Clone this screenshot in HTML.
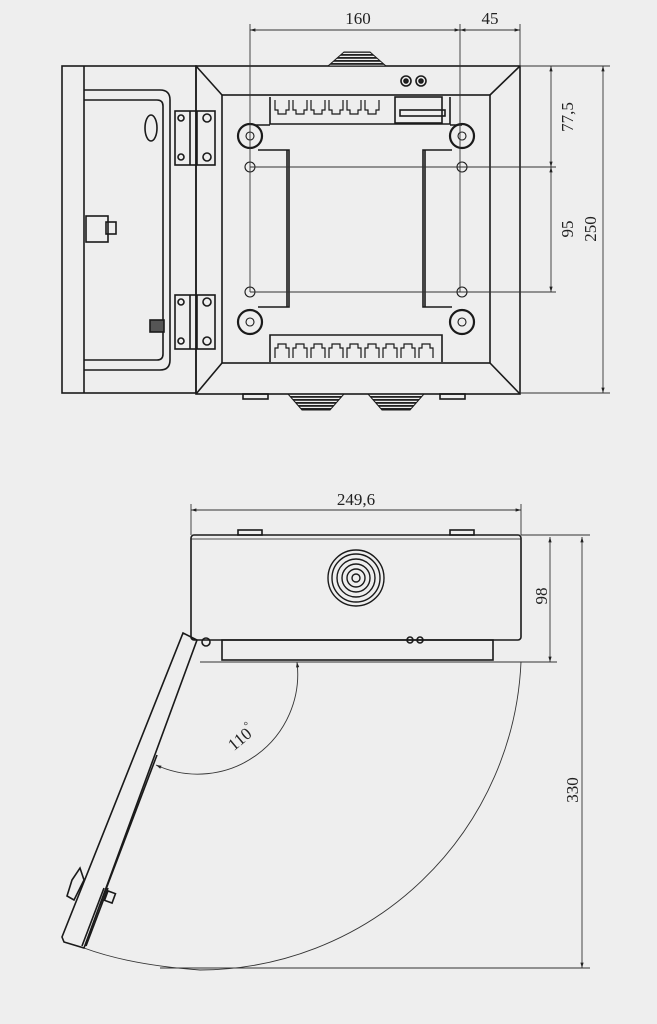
<!DOCTYPE html>
<html><head><meta charset="utf-8"><style>
html,body{margin:0;padding:0;background:#eeeeee;}
svg{display:block}
text{font-family:"Liberation Serif",serif;fill:#222;}
</style></head><body>
<svg width="657" height="1024" viewBox="0 0 657 1024" xmlns="http://www.w3.org/2000/svg">
<defs>
<marker id="a" viewBox="0 0 10 10" refX="10" refY="5" markerWidth="8" markerHeight="6" orient="auto-start-reverse"><path d="M0,2 L10,5 L0,8z" fill="#222"/></marker>
<pattern id="h" width="4" height="3" patternUnits="userSpaceOnUse"><rect width="4" height="3" fill="#eee"/><rect width="4" height="1.8" fill="#222"/></pattern>
</defs>
<rect width="657" height="1024" fill="#eeeeee"/>
<g stroke="#1a1a1a" fill="none" stroke-width="1.6">
<!-- door -->
<rect x="62" y="66" width="134" height="327"/>
<line x1="84" y1="66" x2="84" y2="393"/>
<path d="M84,90 H160 Q170,90 170,100 V360 Q170,370 160,370 H84"/>
<path d="M84,100 H157 Q163,100 163,106 V354 Q163,360 157,360 H84"/>
<ellipse cx="151" cy="128" rx="6" ry="13"/>
<rect x="86" y="216" width="22" height="26"/><rect x="106" y="222" width="10" height="12"/>
<rect x="150" y="320" width="14" height="12" fill="#555"/>
<!-- hinges -->
<rect x="175" y="111" width="40" height="54"/><line x1="190" y1="111" x2="190" y2="165"/><line x1="197" y1="111" x2="197" y2="165"/>
<circle cx="181" cy="118" r="3"/><circle cx="181" cy="157" r="3"/><circle cx="207" cy="118" r="4"/><circle cx="207" cy="157" r="4"/>
<rect x="175" y="295" width="40" height="54"/><line x1="190" y1="295" x2="190" y2="349"/><line x1="197" y1="295" x2="197" y2="349"/>
<circle cx="181" cy="302" r="3"/><circle cx="181" cy="341" r="3"/><circle cx="207" cy="302" r="4"/><circle cx="207" cy="341" r="4"/>
<!-- box -->
<rect x="196" y="66" width="324" height="328"/>
<rect x="222" y="95" width="268" height="268"/>
<line x1="196" y1="66" x2="222" y2="95"/><line x1="520" y1="66" x2="490" y2="95"/>
<line x1="196" y1="394" x2="222" y2="363"/><line x1="520" y1="394" x2="490" y2="363"/>
<!-- glands -->
<path d="M328,66 L344,52 H370 L386,66 Z" fill="url(#h)" stroke-width="1"/>
<path d="M288,394 L302,410 H330 L344,394 Z" fill="url(#h)" stroke-width="1"/>
<path d="M368,394 L382,410 H410 L424,394 Z" fill="url(#h)" stroke-width="1"/>
<rect x="243" y="394" width="25" height="5"/><rect x="440" y="394" width="25" height="5"/>
<circle cx="406" cy="81" r="5"/><circle cx="406" cy="81" r="2" fill="#222"/>
<circle cx="421" cy="81" r="5"/><circle cx="421" cy="81" r="2" fill="#222"/>
<!-- plate -->
<path d="M270,97 V124 H450 V97"/>
<path d="M270,362 V335 H442 V362"/>
<rect x="395" y="97" width="47" height="26"/><rect x="400" y="110" width="45" height="6"/>
<path d="M270,125 H255 M450,125 H462 M258,150 H289 V307 H258 M452,150 H423 V307 H452"/>
<line x1="287" y1="150" x2="287" y2="307"/><line x1="425" y1="150" x2="425" y2="307"/>
<g stroke-width="1.2">
<path d="M275,100 v10 h3 v4 h8 v-4 h3 v-10 M293,100 v10 h3 v4 h8 v-4 h3 v-10 M311,100 v10 h3 v4 h8 v-4 h3 v-10 M329,100 v10 h3 v4 h8 v-4 h3 v-10 M347,100 v10 h3 v4 h8 v-4 h3 v-10 M365,100 v10 h3 v4 h8 v-4 h3 v-10"/>
<path d="M275,358 v-10 h3 v-4 h8 v4 h3 v10 M293,358 v-10 h3 v-4 h8 v4 h3 v10 M311,358 v-10 h3 v-4 h8 v4 h3 v10 M329,358 v-10 h3 v-4 h8 v4 h3 v10 M347,358 v-10 h3 v-4 h8 v4 h3 v10 M365,358 v-10 h3 v-4 h8 v4 h3 v10 M383,358 v-10 h3 v-4 h8 v4 h3 v10 M401,358 v-10 h3 v-4 h8 v4 h3 v10 M419,358 v-10 h3 v-4 h8 v4 h3 v10"/>
</g>
<g stroke-width="2.2">
<circle cx="250" cy="136" r="12"/><circle cx="462" cy="136" r="12"/><circle cx="250" cy="322" r="12"/><circle cx="462" cy="322" r="12"/>
</g>
<g stroke-width="1.1">
<circle cx="250" cy="136" r="4"/><circle cx="462" cy="136" r="4"/><circle cx="250" cy="322" r="4"/><circle cx="462" cy="322" r="4"/>
<circle cx="250" cy="167" r="5"/><circle cx="462" cy="167" r="5"/><circle cx="250" cy="292" r="5"/><circle cx="462" cy="292" r="5"/>
</g>
</g>
<!-- dims top -->
<g stroke="#333" stroke-width="0.9" fill="none">
<line x1="250" y1="24" x2="250" y2="292"/><line x1="460" y1="24" x2="460" y2="292"/><line x1="520" y1="24" x2="520" y2="66"/>
<line x1="250" y1="30" x2="460" y2="30" marker-start="url(#a)" marker-end="url(#a)"/>
<line x1="460" y1="30" x2="520" y2="30" marker-start="url(#a)" marker-end="url(#a)"/>
<line x1="520" y1="66" x2="610" y2="66"/><line x1="250" y1="167" x2="556" y2="167"/><line x1="250" y1="292" x2="556" y2="292"/><line x1="520" y1="393" x2="610" y2="393"/>
<line x1="551" y1="66" x2="551" y2="167" marker-start="url(#a)" marker-end="url(#a)"/>
<line x1="551" y1="167" x2="551" y2="292" marker-start="url(#a)" marker-end="url(#a)"/>
<line x1="603" y1="66" x2="603" y2="393" marker-start="url(#a)" marker-end="url(#a)"/>
</g>
<text x="358" y="24" font-size="17" text-anchor="middle">160</text>
<text x="490" y="24" font-size="17" text-anchor="middle">45</text>
<text transform="translate(573,117) rotate(-90)" font-size="17" text-anchor="middle">77,5</text>
<text transform="translate(573,229) rotate(-90)" font-size="17" text-anchor="middle">95</text>
<text transform="translate(596,229) rotate(-90)" font-size="17" text-anchor="middle">250</text>

<!-- BOTTOM VIEW -->
<g stroke="#1a1a1a" fill="none" stroke-width="1.6">
<rect x="191" y="535" width="330" height="105" rx="3"/>
<line x1="191" y1="539" x2="521" y2="539" stroke-width="0.8"/>
<rect x="222" y="640" width="271" height="20"/>
<rect x="238" y="530" width="24" height="5"/><rect x="450" y="530" width="24" height="5"/>
<g stroke-width="1.4">
<circle cx="356" cy="578" r="28"/><circle cx="356" cy="578" r="24"/><circle cx="356" cy="578" r="19"/><circle cx="356" cy="578" r="14"/><circle cx="356" cy="578" r="9"/><circle cx="356" cy="578" r="4"/>
</g>
<circle cx="206" cy="642" r="4"/><circle cx="410" cy="640" r="3"/><circle cx="420" cy="640" r="3"/>
<path d="M183,633 L197,640 L84,948 L64,942 L62,937 Z"/>
<line x1="157" y1="755" x2="100" y2="905"/>
<path d="M72,880 L80,868 L84,880 L74,900 L67,896 Z"/>
<line x1="108" y1="888" x2="86" y2="946"/><line x1="104" y1="888" x2="82" y2="946"/>
<rect x="106" y="892" width="8" height="10" transform="rotate(20 110 897)"/>
</g>
<g stroke="#333" stroke-width="0.9" fill="none">
<line x1="191" y1="504" x2="191" y2="535"/><line x1="521" y1="504" x2="521" y2="535"/>
<line x1="191" y1="510" x2="521" y2="510" marker-start="url(#a)" marker-end="url(#a)"/>
<line x1="521" y1="535" x2="590" y2="535"/><line x1="200" y1="662" x2="557" y2="662"/><line x1="160" y1="968" x2="590" y2="968"/>
<line x1="550" y1="537" x2="550" y2="662" marker-start="url(#a)" marker-end="url(#a)"/>
<line x1="582" y1="537" x2="582" y2="968" marker-start="url(#a)" marker-end="url(#a)"/>
<path d="M521,662 A322,322 0 0 1 200,970 Q130,965 84,948"/>
<path d="M297,662 A100,100 0 0 1 156,765" marker-start="url(#a)" marker-end="url(#a)"/>
</g>
<text x="356" y="505" font-size="17" text-anchor="middle">249,6</text>
<text transform="translate(547,596) rotate(-90)" font-size="17" text-anchor="middle">98</text>
<text transform="translate(578,790) rotate(-90)" font-size="17" text-anchor="middle">330</text>
<text transform="translate(245,742) rotate(-40)" font-size="17" text-anchor="middle">110<tspan font-size="11" dy="-8">°</tspan></text>
</svg>
</body></html>
